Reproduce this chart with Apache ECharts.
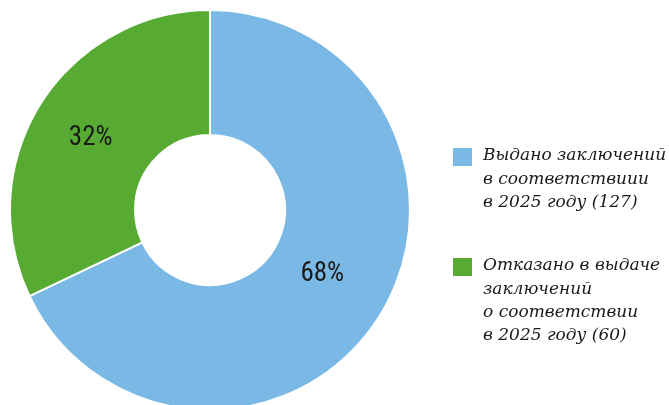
<!DOCTYPE html>
<html><head><meta charset="utf-8">
<script src="https://cdn.jsdelivr.net/npm/echarts@6/dist/echarts.min.js"></script>
<style>html,body{margin:0;padding:0;background:#fff}#c{width:669px;height:405px}</style>
</head><body><div id="c"></div>
<script>
const categories = ['Выдано заключений\nв соответствиии\nв 2025 году (127)', 'Отказано в выдаче\nзаключений\nо соответствии\nв 2025 году (60)'];
const values = [127, 60];
const percentLabels = ['68%', '32%'];
const colors = ['#7ab9e6', '#58ab32'];

const chart = echarts.init(document.getElementById('c'));
const legendTops = [148, 258];
const labelShift = [[-6.5, -11], [-0.5, 3]];
const graphics = [];
categories.forEach((c, i) => {
  graphics.push({type: 'rect', left: 453, top: legendTops[i], shape: {width: 19, height: 18}, style: {fill: colors[i]}});
  graphics.push({type: 'text', x: 483, y: legendTops[i] - 4, style: {
    text: c, fill: '#1a1a1a', font: 'italic 17px "DejaVu Serif"', lineHeight: 23.4, verticalAlign: 'top'
  }});
});
chart.setOption({
  animation: false,
  color: colors,
  graphic: graphics,
  series: [{
    type: 'pie',
    center: [210, 210],
    radius: [75, 200],
    startAngle: 90,
    clockwise: true,
    avoidLabelOverlap: false,
    itemStyle: {borderColor: '#fff', borderWidth: 2},
    label: {
      show: true, position: 'inside',
      formatter: p => percentLabels[p.dataIndex],
      fontFamily: '"Liberation Sans Narrow", "Roboto Condensed", "DejaVu Sans Condensed", sans-serif',
      fontSize: 27, color: '#1a1a1a'
    },
    labelLayout: p => ({dx: labelShift[p.dataIndex][0], dy: labelShift[p.dataIndex][1]}),
    labelLine: {show: false},
    emphasis: {disabled: true},
    data: categories.map((c, i) => ({name: c, value: values[i]}))
  }]
});
</script></body></html>
